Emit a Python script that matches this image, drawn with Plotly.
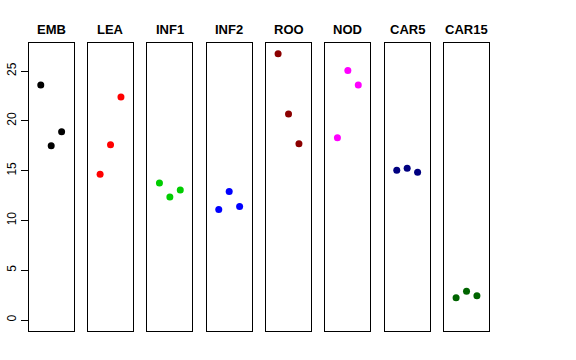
import plotly.graph_objects as go

groups = ["EMB", "LEA", "INF1", "INF2", "ROO", "NOD", "CAR5", "CAR15"]
colors = ["#000000", "#FF0000", "#00CD00", "#0000FF", "#8B0000", "#FF00FF", "#000080", "#006400"]
rep = [1, 2, 3]
emb = [23.6, 17.5, 18.9]
lea = [14.65, 17.6, 22.4]
inf1 = [13.75, 12.35, 13.05]
inf2 = [11.1, 12.9, 11.4]
roo = [26.75, 20.7, 17.7]
nod = [18.3, 25.05, 23.6]
car5 = [15.05, 15.25, 14.85]
car15 = [2.25, 2.9, 2.45]
values = [emb, lea, inf1, inf2, roo, nod, car5, car15]
yticks = [0, 5, 10, 15, 20, 25]

W, H = 576, 360
left0, panel_w, step = 28.7, 45.0, 59.33
top_px, bot_px = 43.0, 330.7

ymax = max(max(v) for v in values)
ypad = 0.04 * ymax
xr = [1 - 1 - 0.16, 3 + 1 + 0.16]

fig = go.Figure()
for i, (g, c, v) in enumerate(zip(groups, colors, values)):
    n = "" if i == 0 else str(i + 1)
    x0 = left0 + i * step
    x1 = x0 + panel_w
    fig.add_trace(go.Scatter(x=rep, y=v, mode="markers",
                             marker=dict(color=c, size=7, line=dict(width=0)),
                             xaxis="x" + n, yaxis="y" + n, showlegend=False, hoverinfo="skip"))
    fig.layout["xaxis" + n] = dict(domain=[x0 / W, x1 / W], range=xr, showline=True,
                                   mirror=True, linecolor="#000000", linewidth=1,
                                   showgrid=False, zeroline=False, showticklabels=False,
                                   ticks="", anchor="y" + n, fixedrange=True, automargin=False)
    ya = dict(domain=[1 - bot_px / H, 1 - top_px / H], range=[0 - ypad, ymax + ypad],
              showline=True, mirror=True, linecolor="#000000", linewidth=1,
              showgrid=False, zeroline=False, anchor="x" + n, fixedrange=True, automargin=False)
    if i == 0:
        ya.update(tickmode="array", tickvals=yticks, ticktext=[str(t) for t in yticks],
                  ticks="outside", ticklen=7, tickcolor="#000000", tickwidth=1,
                  tickangle=-90, tickfont=dict(family="Liberation Sans, Arial", size=12, color="#000000"))
    else:
        ya.update(showticklabels=False, ticks="")
    fig.layout["yaxis" + n] = ya
    fig.add_annotation(x=(x0 + x1) / 2 / W, y=1 - 29 / H, xref="paper", yref="paper",
                       text="<b>" + g + "</b>", showarrow=False, xanchor="center", yanchor="middle",
                       font=dict(family="Liberation Sans, Arial", size=13, color="#000000"))

fig.update_layout(width=W, height=H, margin=dict(l=0, r=0, t=0, b=0, pad=0),
                  plot_bgcolor="white", paper_bgcolor="white")
fig.write_html("out.html", config={"displayModeBar": False},
               post_script="document.body.style.margin='0';document.body.style.overflow='hidden';")
